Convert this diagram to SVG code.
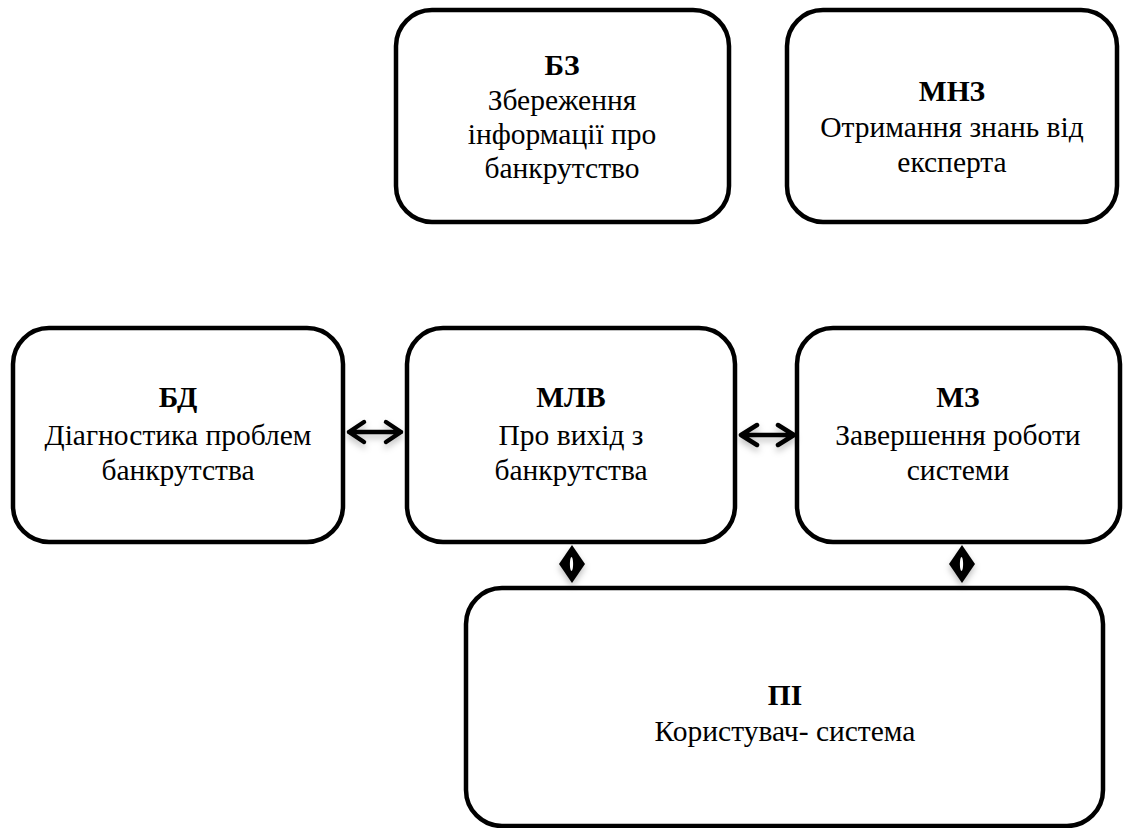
<svg xmlns="http://www.w3.org/2000/svg" width="1123" height="828" viewBox="0 0 1123 828">
<style>
.box{fill:#fff;stroke:#000;stroke-width:4.5}
text{font-family:"Liberation Serif","Tinos","Times New Roman","DejaVu Serif",serif;font-size:29.5px;fill:#000;text-anchor:middle}
.t{font-weight:bold}
.conn{stroke:#000;stroke-width:4.5;fill:none;stroke-linecap:round;stroke-linejoin:round}
</style>
<defs>
<filter id="sh" x="-30%" y="-50%" width="160%" height="250%">
<feDropShadow dx="0" dy="4" stdDeviation="3" flood-color="#000" flood-opacity="0.25"/>
</filter>
</defs>
<g id="BZ"><rect class="box" x="396" y="10" width="333" height="212" rx="36"/>
<text x="562" y="75" class="t">БЗ</text><text x="562" y="110">Збереження</text><text x="562" y="144">інформації про</text><text x="562" y="178">банкрутство</text></g>
<g id="MNZ"><rect class="box" x="787" y="10" width="330" height="212" rx="36"/>
<text x="952" y="101" class="t">МНЗ</text><text x="952" y="137">Отримання знань від</text><text x="952" y="172">експерта</text></g>
<g id="BD"><rect class="box" x="13" y="328" width="330" height="214" rx="36"/>
<text x="178" y="407" class="t">БД</text><text x="178" y="445">Діагностика проблем</text><text x="178" y="480">банкрутства</text></g>
<g id="MLV"><rect class="box" x="407" y="328" width="328" height="214" rx="36"/>
<text x="571" y="407" class="t">МЛВ</text><text x="571" y="445">Про вихід з</text><text x="571" y="480">банкрутства</text></g>
<g id="MZ"><rect class="box" x="797" y="328" width="323" height="214" rx="36"/>
<text x="958" y="407" class="t">МЗ</text><text x="958" y="445">Завершення роботи</text><text x="958" y="480">системи</text></g>
<g id="PI"><rect class="box" x="466" y="588" width="637" height="238" rx="36"/>
<text x="785" y="705" class="t">ПІ</text><text x="785" y="741">Користувач- система</text></g>
<g id="connectors">
<g filter="url(#sh)">
<path class="conn" d="M349,432 L401,432 M364,422 L349,432 L364,442 M386,422 L401,432 L386,442"/>
<path class="conn" d="M741,435 L794,435 M757,425 L741,435 L757,445 M778,425 L794,435 L778,445"/>
</g>
<g filter="url(#sh)">
<path d="M572,545 L585,564 L572,583 L559,564 Z" fill="#000"/>
<ellipse cx="571.5" cy="564" rx="1.6" ry="7" fill="#fff"/>
<path d="M962,545 L975,564 L962,583 L949,564 Z" fill="#000"/>
<ellipse cx="961.5" cy="564" rx="1.6" ry="7" fill="#fff"/>
</g>
</g>
</svg>
